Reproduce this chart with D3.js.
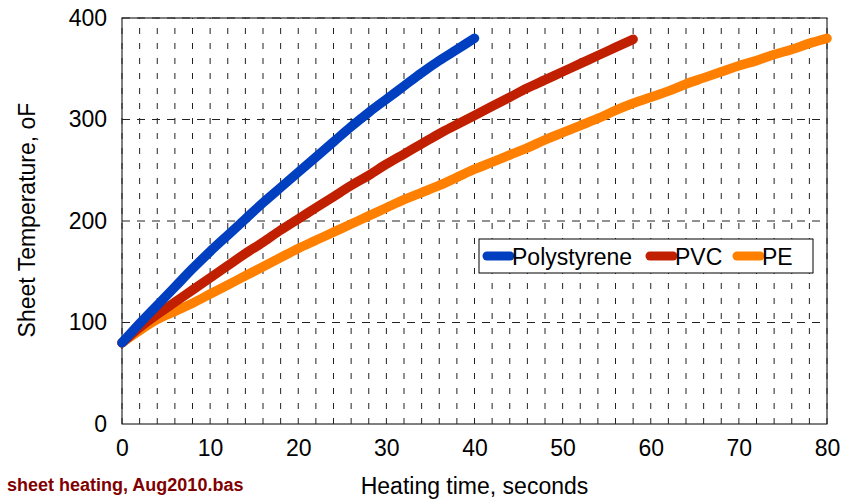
<!DOCTYPE html>
<html>
<head>
<meta charset="utf-8">
<script src="https://cdn.jsdelivr.net/npm/d3@7"></script>
<style>
  body { margin: 0; background: #fff; }
  text { font-family: "Liberation Sans", Arial, sans-serif; }
</style>
</head>
<body>
<div id="chart"></div>
<script>
// heating time (s) and sheet temperature (oF)
const psTime = [0, 2, 4, 6, 8, 10, 12, 14, 16, 18, 20, 22, 24, 26, 28, 30, 32, 34, 36, 38, 40];
const psTemp = [80, 99, 117, 135, 153, 170, 186, 202, 218, 233, 248, 263, 278, 293, 307, 320, 333, 346, 358, 369, 380];

const pvcTime = [0, 2, 4, 6, 8, 10, 12, 14, 16, 18, 20, 22, 24, 26, 28, 30, 32, 34, 36, 38, 40, 42, 44, 46, 48, 50, 52, 54, 56, 58];
const pvcTemp = [80, 95, 108, 120, 132, 144, 156, 168, 179, 191, 202, 213, 224, 235, 245, 256, 266, 276, 286, 295, 304, 313, 322, 331, 339, 347, 355, 363, 371, 379];

const peTime = [0, 2, 4, 6, 8, 10, 12, 14, 16, 18, 20, 22, 24, 26, 28, 30, 32, 34, 36, 38, 40, 42, 44, 46, 48, 50, 52, 54, 56, 58, 60, 62, 64, 66, 68, 70, 72, 74, 76, 78, 80];
const peTemp = [80, 92, 103, 111, 119, 128, 137, 146, 155, 164, 173, 181, 189, 197, 205, 213, 221, 228, 235, 243, 251, 258, 265, 272, 280, 287, 294, 301, 309, 316, 322, 328, 335, 341, 347, 353, 358, 364, 369, 375, 380];

const seriesNames = ["Polystyrene", "PVC", "PE"];
const xTicks = [0, 10, 20, 30, 40, 50, 60, 70, 80];
const yTicks = [0, 100, 200, 300, 400];

const colors = ["#0040c0", "#c02000", "#ff8000"];

const width = 842;
const height = 502;
const margin = { left: 122, top: 18, right: 15, bottom: 78 };
const plotW = width - margin.left - margin.right;
const plotH = height - margin.top - margin.bottom;

const svg = d3.select("#chart")
  .append("svg")
  .attr("width", width)
  .attr("height", height)
  .style("background", "#fff");

const x = d3.scaleLinear().domain([0, 80]).range([0, plotW]);
const y = d3.scaleLinear().domain([0, 400]).range([plotH, 0]);

const g = svg.append("g")
  .attr("transform", `translate(${margin.left},${margin.top})`);

// frame
g.append("rect")
  .attr("width", plotW)
  .attr("height", plotH)
  .attr("fill", "none")
  .attr("stroke", "#000")
  .attr("stroke-width", 1);

// vertical grid every 2 s
g.append("g")
  .selectAll("line")
  .data(d3.range(0, 81, 2))
  .join("line")
  .attr("x1", d => x(d))
  .attr("x2", d => x(d))
  .attr("y1", plotH)
  .attr("y2", 0)
  .attr("stroke", "#222")
  .attr("stroke-dasharray", "6,9");

// horizontal grid
g.append("g")
  .selectAll("line")
  .data(yTicks.slice(1))
  .join("line")
  .attr("x1", 0)
  .attr("x2", plotW)
  .attr("y1", d => y(d))
  .attr("y2", d => y(d))
  .attr("stroke", "#222")
  .attr("stroke-dasharray", "8,7");

// axes (labels only)
const xAxis = g.append("g")
  .attr("transform", `translate(0,${plotH})`)
  .call(d3.axisBottom(x).tickValues(xTicks).tickSize(0).tickPadding(16));
xAxis.select(".domain").remove();
xAxis.selectAll("text").attr("font-size", 23).attr("fill", "#000")
  .style("font-family", "'Liberation Sans', Arial, sans-serif");

const yAxis = g.append("g")
  .call(d3.axisLeft(y).tickValues(yTicks).tickSize(0).tickPadding(15));
yAxis.select(".domain").remove();
yAxis.selectAll("text").attr("font-size", 23).attr("fill", "#000")
  .style("font-family", "'Liberation Sans', Arial, sans-serif");

// curves
const series = [
  psTime.map((t, i) => [t, psTemp[i]]),
  pvcTime.map((t, i) => [t, pvcTemp[i]]),
  peTime.map((t, i) => [t, peTemp[i]]),
];

const line = d3.line()
  .x(d => x(d[0]))
  .y(d => y(d[1]))
  .curve(d3.curveMonotoneX);

// draw PE first so polystyrene sits on top
[2, 1, 0].forEach(i => {
  g.append("path")
    .datum(series[i])
    .attr("d", line)
    .attr("fill", "none")
    .attr("stroke", colors[i])
    .attr("stroke-width", 9.5)
    .attr("stroke-linecap", "round")
    .attr("stroke-linejoin", "round");
});

// legend
const legend = svg.append("g").attr("transform", "translate(479,239)");
legend.append("rect")
  .attr("width", 334)
  .attr("height", 34)
  .attr("fill", "#fff")
  .attr("stroke", "#000");

const legendX = [4, 167, 254];
seriesNames.forEach((name, i) => {
  const item = legend.append("g").attr("transform", `translate(${legendX[i]},0)`);
  item.append("line")
    .attr("x1", 4).attr("x2", 27)
    .attr("y1", 17).attr("y2", 17)
    .attr("stroke", colors[i])
    .attr("stroke-width", 9)
    .attr("stroke-linecap", "round");
  item.append("text")
    .attr("x", 29)
    .attr("y", 26)
    .attr("font-size", 23)
    .text(name);
});

// axis titles
svg.append("text")
  .attr("x", margin.left + plotW / 2)
  .attr("y", 494)
  .attr("text-anchor", "middle")
  .attr("font-size", 23)
  .text("Heating time, seconds");

svg.append("text")
  .attr("transform", "translate(35,220) rotate(-90)")
  .attr("text-anchor", "middle")
  .attr("font-size", 23)
  .text("Sheet Temperature, oF");

// file note
svg.append("text")
  .attr("x", 7)
  .attr("y", 491)
  .attr("font-size", 18)
  .attr("font-weight", "bold")
  .attr("fill", "#800000")
  .text("sheet heating, Aug2010.bas");
</script>
</body>
</html>
